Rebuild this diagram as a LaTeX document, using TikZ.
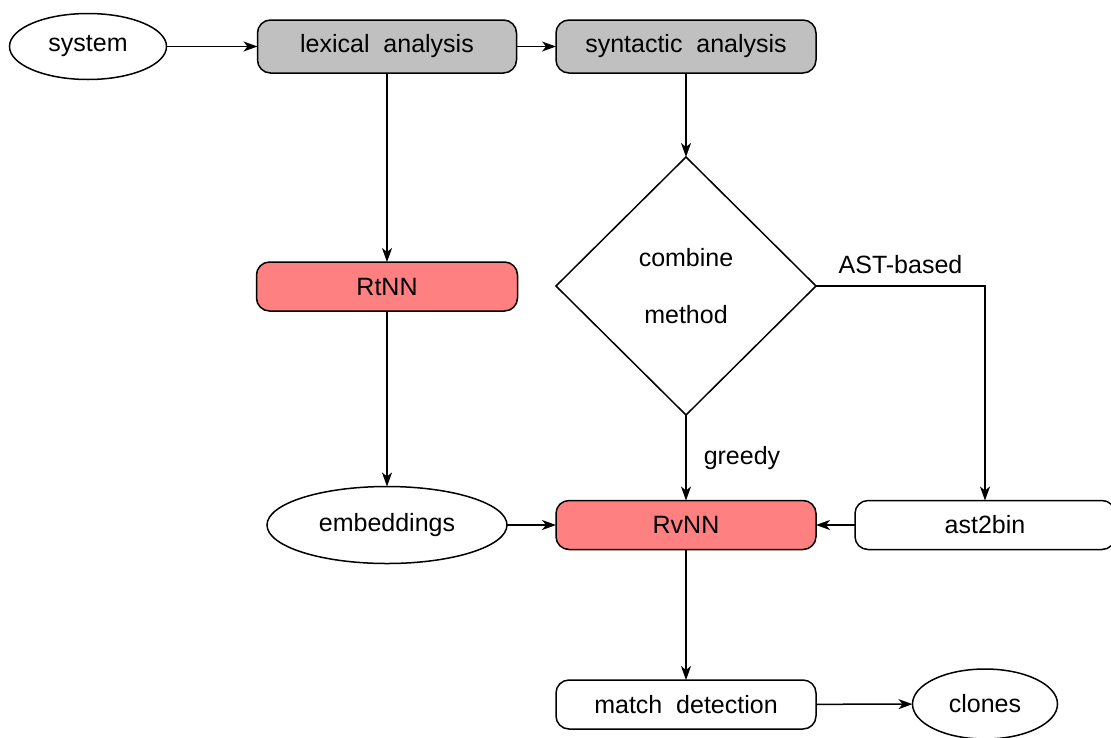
\documentclass[tikz,border=0pt]{standalone}
\usepackage{fontspec}
\setmainfont{Liberation Sans}
\usetikzlibrary{shapes.geometric,arrows.meta}

\definecolor{stagegray}{RGB}{192,192,192}
\definecolor{netred}{RGB}{255,128,128}

\tikzset{
  base/.style={draw=black, line width=1.5pt, inner sep=0pt, outer sep=0pt,
    font=\fontsize{25}{57}\selectfont},
  stepbox/.style={base, rounded corners=13pt, minimum width=260pt, minimum height=53pt},
  netbox/.style={stepbox, fill=netred, minimum height=49pt},
  plainbox/.style={stepbox, fill=white, minimum height=49pt},
  stagebox/.style={stepbox, fill=stagegray},
  term/.style={base, ellipse},
  choice/.style={base, diamond, aspect=1, minimum width=260pt, minimum height=258pt, align=center},
  arr/.style={draw=black, line width=1.5pt, -{Stealth[length=14pt,width=10pt,inset=4pt]}},
  lbl/.style={inner sep=0pt, font=\fontsize{25}{30}\selectfont}
}

\begin{document}
\begin{tikzpicture}[x=1pt,y=-1pt]
  \useasboundingbox (0,0) rectangle (1111,737);

  % top row: input and the two analysis stages
  \node[term, minimum width=157pt, minimum height=66pt] (system) at (88,46.5) {system};
  \node[stagebox, minimum width=259pt] (lex) at (387,46.5) {lexical\ \ analysis};
  \node[stagebox] (syn) at (686,46.5) {syntactic\ \ analysis};

  % lexical branch
  \node[netbox, minimum width=261pt] (rtnn) at (387,286.5) {RtNN};
  \node[term, minimum width=240pt, minimum height=77pt] (emb) at (387,525) {embeddings};

  % syntactic branch
  \node[choice] (dia) at (686,286) {combine\\method};
  \node[netbox] (rvnn) at (686,525) {RvNN};
  \node[plainbox] (ast) at (985,525) {ast2bin};

  % output
  \node[plainbox] (match) at (686,704.5) {match\ \ detection};
  \node[term, minimum width=145pt, minimum height=70pt] (clones) at (985,704) {clones};

  % connectors
  \draw[arr] (system) -- (lex);
  \draw[arr] (lex) -- (syn);
  \draw[arr] (lex) -- (rtnn);
  \draw[arr] (rtnn) -- (emb);
  \draw[arr] (emb) -- (rvnn);
  \draw[arr] (syn) -- (dia);
  \draw[arr] (dia) -- node[lbl, right=17pt] {greedy} (rvnn);
  \draw[arr] (dia.east) -| node[lbl, pos=0.25, above=12pt] {AST-based} (ast.north);
  \draw[arr] (ast) -- (rvnn);
  \draw[arr] (rvnn) -- (match);
  \draw[arr] (match) -- (clones);
\end{tikzpicture}
\end{document}
